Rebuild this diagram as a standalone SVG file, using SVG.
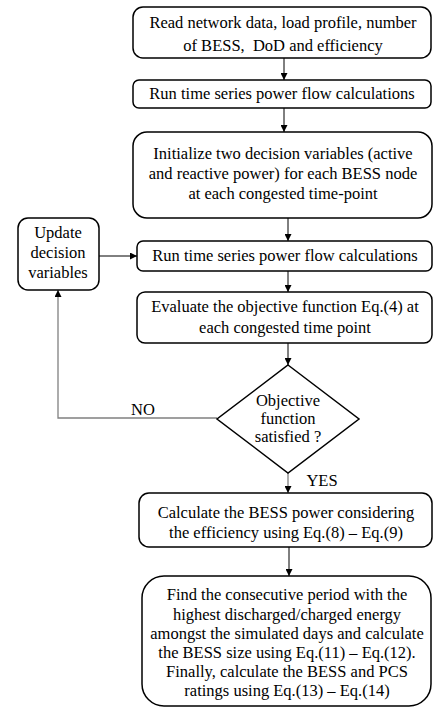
<svg xmlns="http://www.w3.org/2000/svg" width="434" height="708" viewBox="0 0 434 708">
  <style>
    .box { fill: #ffffff; stroke: #000000; stroke-width: 1.5; }
    .txt { font-family: "Liberation Serif", "Times New Roman", serif; font-size: 16.5px; fill: #000000; text-anchor: middle; }
    .lbl { font-family: "Liberation Serif", "Times New Roman", serif; font-size: 16.5px; fill: #000000; text-anchor: middle; }
    .edge { fill: none; stroke: #000000; stroke-width: 1; }
    .edge-grey { fill: none; stroke: #808080; stroke-width: 1.3; }
  </style>
  <defs>
    <marker id="arrow" viewBox="0 0 10 10" refX="10" refY="5" markerWidth="7" markerHeight="7" markerUnits="userSpaceOnUse" orient="auto">
      <path d="M0,0 L10,5 L0,10 Z" fill="#000000"/>
    </marker>
  </defs>
  <rect width="434" height="708" fill="#ffffff"/>

  <g id="connectors">
    <line class="edge" x1="284" y1="58" x2="284" y2="80" marker-end="url(#arrow)"/>
    <line class="edge" x1="284" y1="108" x2="284" y2="132" marker-end="url(#arrow)"/>
    <line class="edge" x1="288" y1="218" x2="288" y2="241" marker-end="url(#arrow)"/>
    <line class="edge" x1="288" y1="271" x2="288" y2="292" marker-end="url(#arrow)"/>
    <line class="edge" x1="288" y1="343" x2="288" y2="365" marker-end="url(#arrow)"/>
    <line class="edge-grey" x1="288" y1="473" x2="288" y2="493" marker-end="url(#arrow)"/>
    <line class="edge" x1="289" y1="547" x2="289" y2="576" marker-end="url(#arrow)"/>
    <line class="edge" x1="99" y1="256" x2="137" y2="256" marker-end="url(#arrow)"/>
    <polyline class="edge-grey" points="217,418 58,418 58,290" marker-end="url(#arrow)"/>
    <text class="lbl" x="143" y="415">NO</text>
    <text class="lbl" x="322" y="486">YES</text>
  </g>

  <g id="read-data">
    <rect class="box" x="133" y="7" width="298" height="51" rx="10"/>
    <text class="txt" x="283" y="28">Read network data, load profile, number</text>
    <text class="txt" x="283" y="51" xml:space="preserve">of BESS,  DoD and efficiency</text>
  </g>

  <g id="power-flow-1">
    <rect class="box" x="133" y="80" width="298" height="28" rx="6"/>
    <text class="txt" x="282" y="99">Run time series power flow calculations</text>
  </g>

  <g id="initialize">
    <rect class="box" x="133" y="132" width="299" height="86" rx="14"/>
    <text class="txt" x="283" y="159">Initialize two decision variables (active</text>
    <text class="txt" x="283" y="179">and reactive power) for each BESS node</text>
    <text class="txt" x="283" y="199">at each congested time-point</text>
  </g>

  <g id="update">
    <rect class="box" x="18" y="218" width="81" height="72" rx="10"/>
    <text class="txt" x="58" y="238">Update</text>
    <text class="txt" x="58" y="258">decision</text>
    <text class="txt" x="58" y="278">variables</text>
  </g>

  <g id="power-flow-2">
    <rect class="box" x="137" y="241" width="295" height="30" rx="6"/>
    <text class="txt" x="285" y="261">Run time series power flow calculations</text>
  </g>

  <g id="evaluate">
    <rect class="box" x="137" y="292" width="295" height="51" rx="8"/>
    <text class="txt" x="285" y="312">Evaluate the objective function Eq.(4) at</text>
    <text class="txt" x="285" y="333">each congested time point</text>
  </g>

  <g id="decision">
    <polygon class="box" points="288,365 359,419 288,473 217,419"/>
    <text class="txt" x="288" y="406">Objective</text>
    <text class="txt" x="288" y="424">function</text>
    <text class="txt" x="288" y="442">satisfied ?</text>
  </g>

  <g id="bess-power">
    <rect class="box" x="139" y="493" width="293" height="54" rx="10"/>
    <text class="txt" x="286" y="518">Calculate the BESS power considering</text>
    <text class="txt" x="286" y="538">the efficiency using Eq.(8) – Eq.(9)</text>
  </g>

  <g id="sizing">
    <rect class="box" x="142" y="576" width="289" height="130" rx="22"/>
    <text class="txt" x="287" y="600">Find the consecutive period with the</text>
    <text class="txt" x="287" y="620">highest discharged/charged energy</text>
    <text class="txt" x="287" y="639">amongst the simulated days and calculate</text>
    <text class="txt" x="287" y="658">the BESS size using Eq.(11) – Eq.(12).</text>
    <text class="txt" x="287" y="677">Finally, calculate the BESS and PCS</text>
    <text class="txt" x="287" y="696">ratings using Eq.(13) – Eq.(14)</text>
  </g>
</svg>
